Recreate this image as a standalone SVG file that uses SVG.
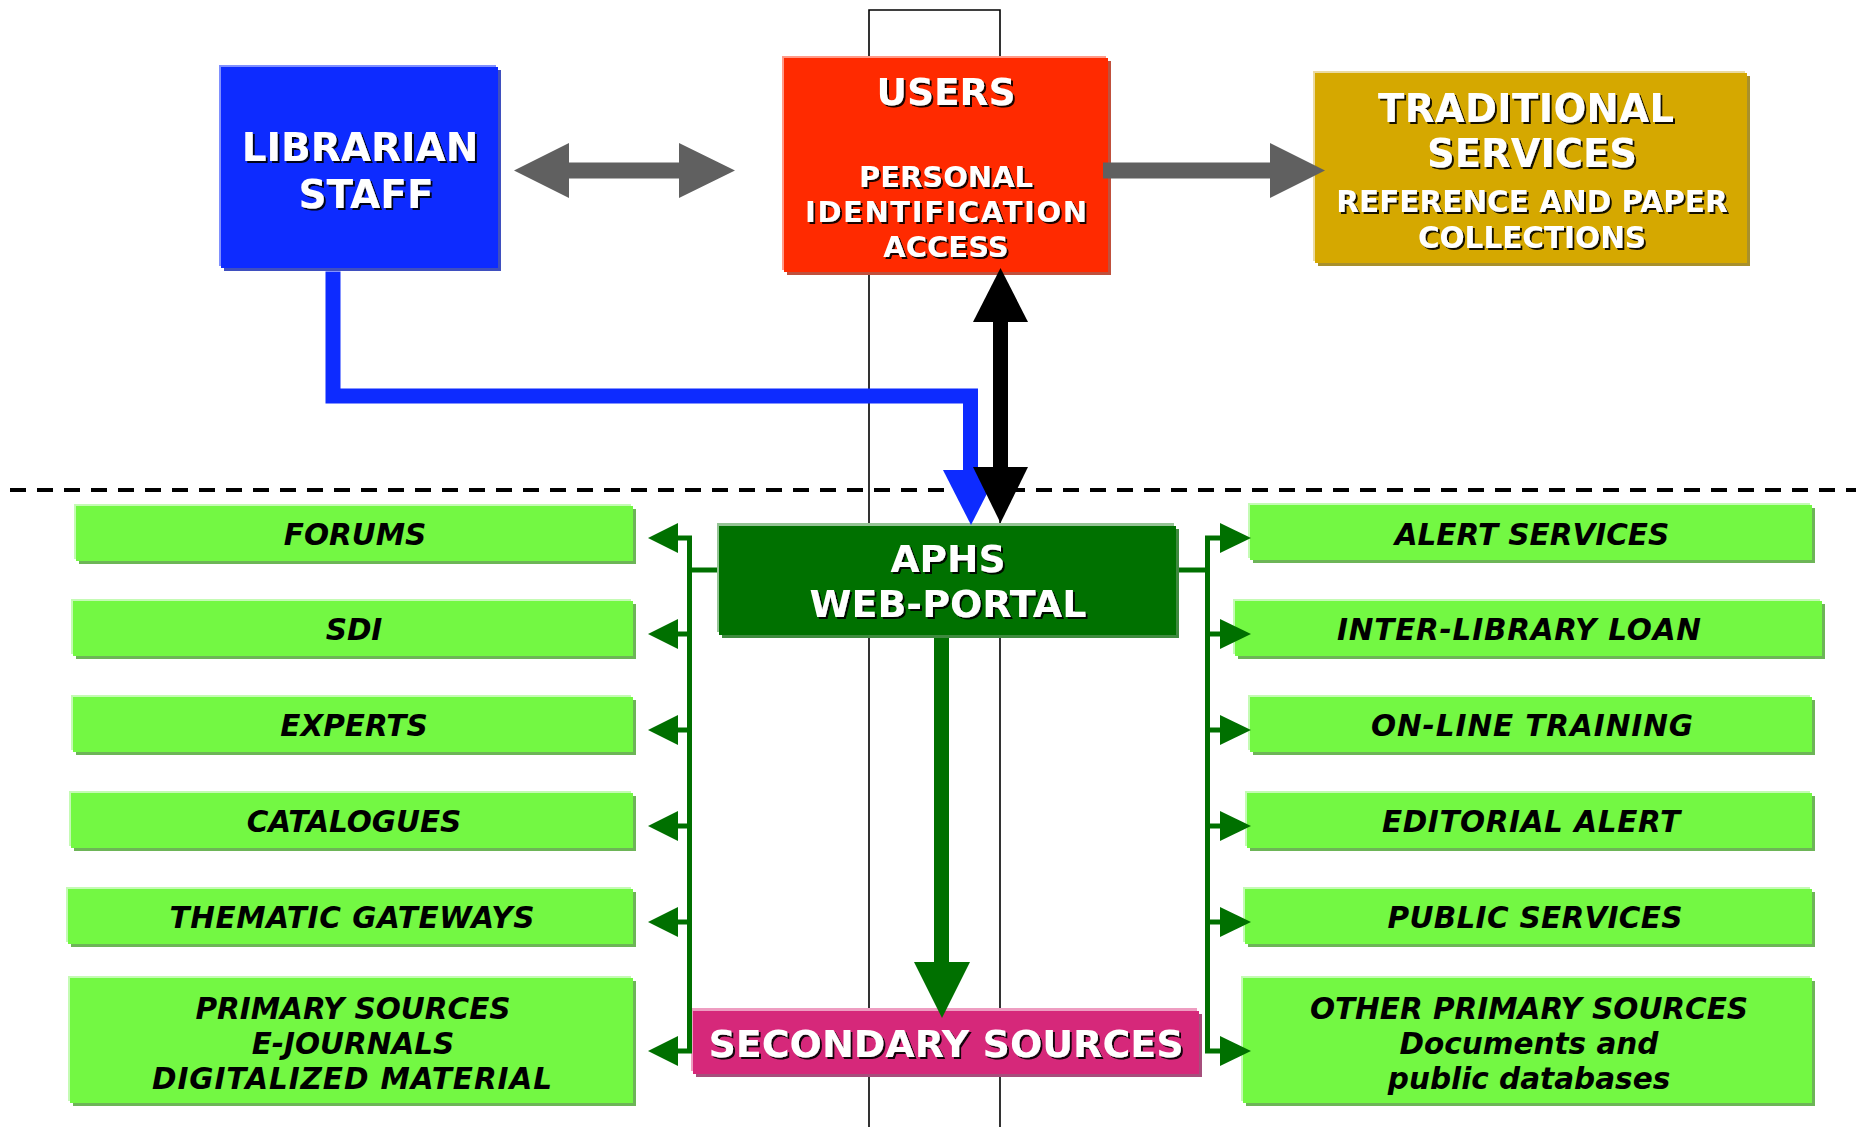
<svg xmlns="http://www.w3.org/2000/svg" width="1862" height="1127" viewBox="0 0 1862 1127">
  <defs>
    <filter id="ts" x="-5%" y="-20%" width="110%" height="150%">
      <feDropShadow dx="2" dy="2" stdDeviation="0.4" flood-color="#000" flood-opacity="0.9"/>
    </filter>
    <style>
      .tw { fill:#fff; font-family:'DejaVu Sans','Liberation Sans',sans-serif; font-weight:bold; text-anchor:middle; filter:url(#ts); }
      .tb { fill:#000; font-family:'DejaVu Sans','Liberation Sans',sans-serif; font-weight:bold; font-style:italic; font-size:29.5px; text-anchor:middle; }
      .big { font-size:37.5px; }
      .mid { font-size:29px; }
      .g-fl { fill:#73F843; } .g-hl { fill:#C4FBB4; } .g-sh { fill:#6DB557; }
      .b-fl { fill:#0D2BFF; } .b-hl { fill:#8090FF; } .b-sh { fill:#3F4FBF; }
      .r-fl { fill:#FF2A00; } .r-hl { fill:#FF9A88; } .r-sh { fill:#C0503C; }
      .y-fl { fill:#D5A800; } .y-hl { fill:#EADAA2; } .y-sh { fill:#A8902C; }
      .d-fl { fill:#007100; } .d-hl { fill:#95C495; } .d-sh { fill:#3F8A3F; }
      .m-fl { fill:#D6287A; } .m-hl { fill:#EE9DC1; } .m-sh { fill:#A64E7C; }
      .bus { fill:none; stroke:#007000; stroke-width:5; stroke-linejoin:miter; }
      .gh { fill:#007000; }
    </style>
  </defs>

  <rect width="1862" height="1127" fill="#fff"/>

  <!-- thin frame and level separator -->
  <g id="background-lines">
    <path d="M869,1127 V10 H1000 V1127" fill="none" stroke="#000" stroke-width="1.6"/>
    <line x1="10" y1="490" x2="1856" y2="490" stroke="#000" stroke-width="4" stroke-dasharray="16 11"/>
  </g>

  <!-- top row -->
  <g id="librarian-staff">
    <rect class="b-sh" x="224" y="70" width="277" height="201"/>
    <rect class="b-hl" x="219" y="65" width="277" height="201"/>
    <rect class="b-fl" x="221" y="67" width="277" height="201"/>
    <text class="tw" x="360" y="161" font-size="39">LIBRARIAN</text>
    <text class="tw" x="366" y="208" font-size="39">STAFF</text>
  </g>

  <g id="users">
    <rect class="r-sh" x="787" y="61" width="324" height="214"/>
    <rect class="r-hl" x="782" y="56" width="324" height="214"/>
    <rect class="r-fl" x="784" y="58" width="324" height="214"/>
    <text class="tw big" x="946" y="105">USERS</text>
    <text class="tw mid" x="946" y="187">PERSONAL</text>
    <text class="tw mid" x="946" y="222" textLength="282" lengthAdjust="spacing">IDENTIFICATION</text>
    <text class="tw mid" x="946" y="257">ACCESS</text>
  </g>

  <g id="traditional-services">
    <rect class="y-sh" x="1318" y="76" width="432" height="190"/>
    <rect class="y-hl" x="1313" y="71" width="432" height="190"/>
    <rect class="y-fl" x="1315" y="73" width="432" height="190"/>
    <text class="tw" x="1526" y="122" font-size="38.5" textLength="296" lengthAdjust="spacing">TRADITIONAL</text>
    <text class="tw" x="1532" y="167" font-size="38.5">SERVICES</text>
    <text class="tw" x="1532" y="212" font-size="29.5">REFERENCE AND PAPER</text>
    <text class="tw" x="1532" y="248" font-size="29.5">COLLECTIONS</text>
  </g>

  <!-- portal and secondary sources -->
  <g id="aphs-web-portal">
    <rect class="d-sh" x="722" y="529" width="457" height="109"/>
    <rect class="d-hl" x="717" y="523" width="457" height="109"/>
    <rect class="d-fl" x="719" y="526" width="457" height="109"/>
    <text class="tw big" x="948" y="572">APHS</text>
    <text class="tw" x="948" y="617" font-size="38">WEB-PORTAL</text>
  </g>

  <g id="secondary-sources">
    <rect class="m-sh" x="696" y="1014" width="506" height="63"/>
    <rect class="m-hl" x="691" y="1008" width="506" height="63"/>
    <rect class="m-fl" x="693" y="1011" width="506" height="63"/>
    <text class="tw" x="946" y="1057" font-size="38">SECONDARY SOURCES</text>
  </g>

  <!-- left column -->
  <g id="forums">
    <rect class="g-sh" x="79" y="509" width="557" height="55"/>
    <rect class="g-hl" x="74" y="504" width="557" height="55"/>
    <rect class="g-fl" x="76" y="506" width="557" height="55"/>
    <text class="tb" x="355" y="545">FORUMS</text>
  </g>
  <g id="sdi">
    <rect class="g-sh" x="76" y="604" width="560" height="55"/>
    <rect class="g-hl" x="71" y="599" width="560" height="55"/>
    <rect class="g-fl" x="73" y="601" width="560" height="55"/>
    <text class="tb" x="354" y="640">SDI</text>
  </g>
  <g id="experts">
    <rect class="g-sh" x="76" y="700" width="560" height="55"/>
    <rect class="g-hl" x="71" y="695" width="560" height="55"/>
    <rect class="g-fl" x="73" y="697" width="560" height="55"/>
    <text class="tb" x="354" y="736">EXPERTS</text>
  </g>
  <g id="catalogues">
    <rect class="g-sh" x="74" y="796" width="562" height="55"/>
    <rect class="g-hl" x="69" y="791" width="562" height="55"/>
    <rect class="g-fl" x="71" y="793" width="562" height="55"/>
    <text class="tb" x="354" y="832">CATALOGUES</text>
  </g>
  <g id="thematic-gateways">
    <rect class="g-sh" x="71" y="892" width="565" height="55"/>
    <rect class="g-hl" x="66" y="887" width="565" height="55"/>
    <rect class="g-fl" x="68" y="889" width="565" height="55"/>
    <text class="tb" x="352" y="928" textLength="365" lengthAdjust="spacing">THEMATIC GATEWAYS</text>
  </g>
  <g id="primary-sources">
    <rect class="g-sh" x="73" y="981" width="563" height="125"/>
    <rect class="g-hl" x="68" y="976" width="563" height="125"/>
    <rect class="g-fl" x="70" y="978" width="563" height="125"/>
    <text class="tb" x="353" y="1019">PRIMARY SOURCES</text>
    <text class="tb" x="353" y="1054">E-JOURNALS</text>
    <text class="tb" x="352" y="1089" textLength="400" lengthAdjust="spacing">DIGITALIZED MATERIAL</text>
  </g>

  <!-- right column -->
  <g id="alert-services">
    <rect class="g-sh" x="1253" y="508" width="562" height="55"/>
    <rect class="g-hl" x="1248" y="503" width="562" height="55"/>
    <rect class="g-fl" x="1250" y="505" width="562" height="55"/>
    <text class="tb" x="1532" y="545">ALERT SERVICES</text>
  </g>
  <g id="inter-library-loan">
    <rect class="g-sh" x="1238" y="604" width="587" height="55"/>
    <rect class="g-hl" x="1233" y="599" width="587" height="55"/>
    <rect class="g-fl" x="1235" y="601" width="587" height="55"/>
    <text class="tb" x="1519" y="640" textLength="364" lengthAdjust="spacing">INTER-LIBRARY LOAN</text>
  </g>
  <g id="on-line-training">
    <rect class="g-sh" x="1253" y="700" width="562" height="55"/>
    <rect class="g-hl" x="1248" y="695" width="562" height="55"/>
    <rect class="g-fl" x="1250" y="697" width="562" height="55"/>
    <text class="tb" x="1532" y="736" textLength="322" lengthAdjust="spacing">ON-LINE TRAINING</text>
  </g>
  <g id="editorial-alert">
    <rect class="g-sh" x="1250" y="796" width="565" height="55"/>
    <rect class="g-hl" x="1245" y="791" width="565" height="55"/>
    <rect class="g-fl" x="1247" y="793" width="565" height="55"/>
    <text class="tb" x="1531" y="832" textLength="298" lengthAdjust="spacing">EDITORIAL ALERT</text>
  </g>
  <g id="public-services">
    <rect class="g-sh" x="1248" y="892" width="567" height="55"/>
    <rect class="g-hl" x="1243" y="887" width="567" height="55"/>
    <rect class="g-fl" x="1245" y="889" width="567" height="55"/>
    <text class="tb" x="1535" y="928" textLength="295" lengthAdjust="spacing">PUBLIC SERVICES</text>
  </g>
  <g id="other-primary-sources">
    <rect class="g-sh" x="1246" y="981" width="569" height="125"/>
    <rect class="g-hl" x="1241" y="976" width="569" height="125"/>
    <rect class="g-fl" x="1243" y="978" width="569" height="125"/>
    <text class="tb" x="1529" y="1019">OTHER PRIMARY SOURCES</text>
    <text class="tb" x="1529" y="1054">Documents and</text>
    <text class="tb" x="1529" y="1089">public databases</text>
  </g>

  <!-- connectors -->
  <g id="connectors">
    <!-- librarian <-> users -->
    <polygon fill="#606060" points="514,170.5 569,143 569,162.5 679,162.5 679,143 735,170.5 679,198 679,178.5 569,178.5 569,198"/>
    <!-- users -> traditional services -->
    <polygon fill="#606060" points="1103,162.5 1270,162.5 1270,143 1325,170.5 1270,198 1270,178.5 1103,178.5"/>
    <!-- librarian -> portal -->
    <path d="M333,271.5 V396 H970.5 V472" fill="none" stroke="#0D2BFF" stroke-width="15" stroke-linejoin="miter"/>
    <polygon fill="#0D2BFF" points="943,470 999,470 971,525"/>
    <!-- users <-> portal -->
    <rect x="993" y="318" width="15" height="152" fill="#000"/>
    <polygon fill="#000" points="1000.5,268 1028,322 973,322"/>
    <polygon fill="#000" points="973,467 1028,467 1000.5,523"/>
    <!-- portal -> secondary sources -->
    <rect x="934" y="638" width="15" height="327" fill="#007000"/>
    <polygon fill="#007000" points="914,962 970,962 942,1018"/>
    <!-- left bus -->
    <path class="bus" d="M717,570 H689.5"/>
    <path class="bus" d="M677,538 H689.5 V1051 H677"/>
    <path class="bus" d="M677,634 H689.5 M677,730 H689.5 M677,826 H689.5 M677,922 H689.5"/>
    <polygon class="gh" points="648,538 678,523 678,553"/>
    <polygon class="gh" points="648,634 678,619 678,649"/>
    <polygon class="gh" points="648,730 678,715 678,745"/>
    <polygon class="gh" points="648,826 678,811 678,841"/>
    <polygon class="gh" points="648,922 678,907 678,937"/>
    <polygon class="gh" points="648,1051 678,1036 678,1066"/>
    <!-- right bus -->
    <path class="bus" d="M1179,570 H1207.5"/>
    <path class="bus" d="M1221,538 H1207.5 V1051 H1221"/>
    <path class="bus" d="M1207.5,634 H1221 M1207.5,730 H1221 M1207.5,826 H1221 M1207.5,922 H1221"/>
    <polygon class="gh" points="1251,538 1220,523 1220,553"/>
    <polygon class="gh" points="1251,634 1220,619 1220,649"/>
    <polygon class="gh" points="1251,730 1220,715 1220,745"/>
    <polygon class="gh" points="1251,826 1220,811 1220,841"/>
    <polygon class="gh" points="1251,922 1220,907 1220,937"/>
    <polygon class="gh" points="1251,1051 1220,1036 1220,1066"/>
  </g>
</svg>
